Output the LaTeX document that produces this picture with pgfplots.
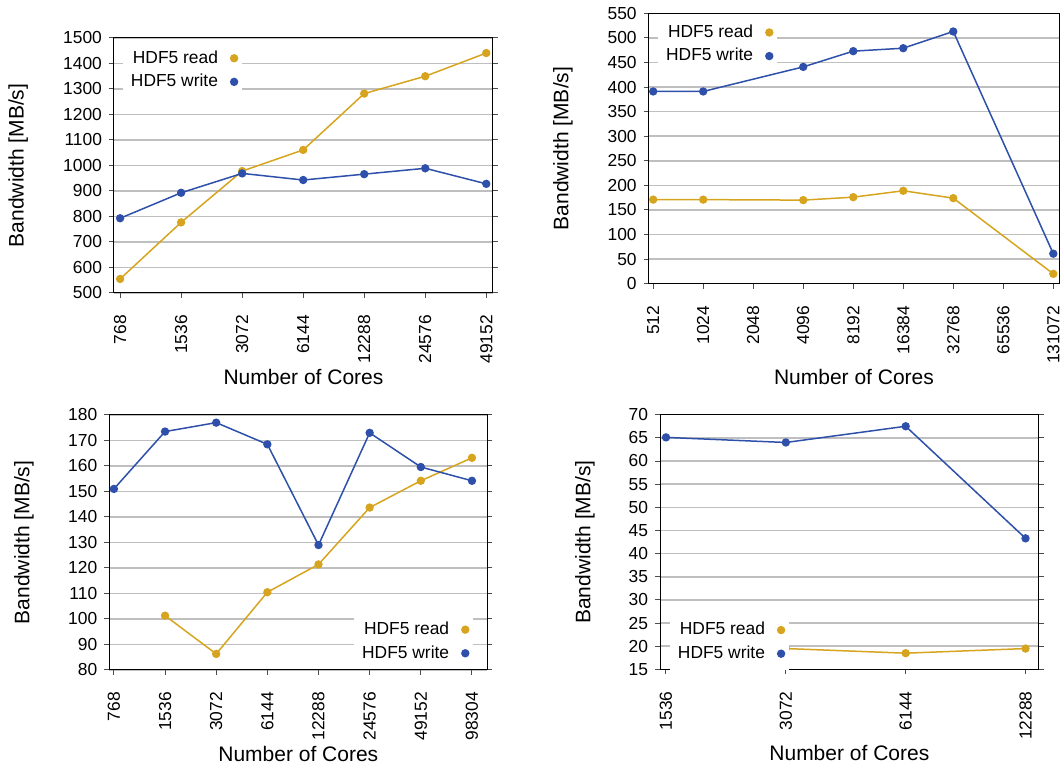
\documentclass[border=0pt]{standalone}
\usepackage{fontspec}
\setmainfont{Liberation Sans}
\usepackage{pgfplots}
\pgfplotsset{compat=1.18}
\definecolor{cread}{RGB}{214,164,30}
\definecolor{cwrite}{RGB}{46,80,170}
\pgfplotsset{
  mystyle/.style={
    scale only axis,
    anchor=south west,
    axis line style={black, line width=0.5pt},
    ymajorgrids,
    major grid style={draw=black!25, line width=0.75pt},
    tick align=outside,
    major tick length=2.5pt,
    tick style={black!70, line width=0.5pt},
    xtick pos=bottom,
    ytick pos=both,
    yticklabel pos=left,
    xtick=data,
    xticklabel style={rotate=90, anchor=east, font=\fontsize{8.7}{10}\selectfont},
    xticklabel shift={5pt},
    yticklabel style={font=\fontsize{8.7}{10}\selectfont},
    /pgf/number format/assume math mode=true,
    /pgf/number format/set thousands separator={},
    label style={font=\fontsize{10.5}{12}\selectfont},
    xlabel={Number of Cores},
    ylabel={Bandwidth [MB/s]},
    legend plot pos=right,
    legend cell align=right,
    legend image code/.code={\path (0cm,0cm); \draw[##1, only marks] plot coordinates {(0.2cm,0cm)};},
    legend style={draw=none, fill=white, font=\fontsize{8.7}{10}\selectfont, row sep=0pt, inner sep=2pt},
    every axis plot/.append style={line width=0.75pt, mark=*, mark size=1.7pt},
  },
  rd/.style={color=cread, mark options={fill=cread, draw=cread}},
  wr/.style={color=cwrite, mark options={fill=cwrite, draw=cwrite}},
}
\begin{document}
\begin{tikzpicture}
\path[use as bounding box] (0,0) rectangle (530pt,384.5pt);

% Top left
\begin{axis}[mystyle,
  at={(57pt,238pt)}, width=189.5pt, height=127.5pt,
  xmin=-0.1, xmax=6.11, ymin=500, ymax=1500, ytick={500,600,...,1500},
  xtick={0,...,6}, xticklabels={768,1536,3072,6144,12288,24576,49152},
  xlabel style={at={(axis description cs:0.5,-0.329)}, anchor=center},
  ylabel style={at={(axis description cs:-0.253,0.5)}, anchor=center},
  legend style={at={(axis description cs:0.3375,0.984)}, anchor=north east},
]
\addplot[rd] coordinates {(0,555)(1,777)(2,978)(3,1061)(4,1282)(5,1350)(6,1441)};
\addplot[wr] coordinates {(0,793)(1,893)(2,969)(3,943)(4,966)(5,989)(6,928)};
\legend{HDF5 read, HDF5 write}
\end{axis}

% Top right
\begin{axis}[mystyle,
  at={(324.35pt,242.65pt)}, width=205.3pt, height=135.2pt,
  xmin=-0.09, xmax=8.12, ymin=0, ymax=550, ytick={0,50,...,550},
  xtick={0,...,8}, xticklabels={512,1024,2048,4096,8192,16384,32768,65536,131072},
  xlabel style={at={(axis description cs:0.5,-0.345)}, anchor=center},
  ylabel style={at={(axis description cs:-0.209,0.5)}, anchor=center},
  legend style={at={(axis description cs:0.3127,0.989)}, anchor=north east},
]
\addplot[rd] coordinates {(0,171)(1,171)(3,170)(4,176)(5,189)(6,174)(8,20)};
\addplot[wr] coordinates {(0,391)(1,391)(3,441)(4,473)(5,479)(6,513)(8,61)};
\legend{HDF5 read, HDF5 write}
\end{axis}

% Bottom left
\begin{axis}[mystyle,
  at={(54.65pt,49.5pt)}, width=189pt, height=127.5pt,
  xmin=-0.09, xmax=7.3, ymin=80, ymax=180, ytick={80,90,...,180},
  xtick={0,...,7}, xticklabels={768,1536,3072,6144,12288,24576,49152,98304},
  xlabel style={at={(axis description cs:0.5,-0.329)}, anchor=center},
  ylabel style={at={(axis description cs:-0.226,0.5)}, anchor=center},
  legend style={at={(axis description cs:0.9624,0.002)}, anchor=south east},
]
\addplot[rd] coordinates {(1,101.3)(2,86.3)(3,110.5)(4,121.4)(5,143.7)(6,154.2)(7,163.2)};
\addplot[wr] coordinates {(0,151)(1,173.5)(2,177)(3,168.5)(4,129)(5,173)(6,159.6)(7,154.2)};
\legend{HDF5 read, HDF5 write}
\end{axis}

% Bottom right
\begin{axis}[mystyle,
  at={(330pt,49.8pt)}, width=189.35pt, height=127.35pt,
  xmin=-0.05, xmax=3.11, ymin=15, ymax=70, ytick={15,20,...,70},
  xtick={0,...,3}, xticklabels={1536,3072,6144,12288},
  xlabel style={at={(axis description cs:0.5,-0.33)}, anchor=center},
  ylabel style={at={(axis description cs:-0.198,0.5)}, anchor=center},
  legend style={at={(axis description cs:0.3404,-0.002)}, anchor=south east},
]
\addplot[rd] coordinates {(1,19.5)(2,18.5)(3,19.5)};
\addplot[wr] coordinates {(0,65.1)(1,64)(2,67.5)(3,43.3)};
\legend{HDF5 read, HDF5 write}
\end{axis}
\end{tikzpicture}
\end{document}
